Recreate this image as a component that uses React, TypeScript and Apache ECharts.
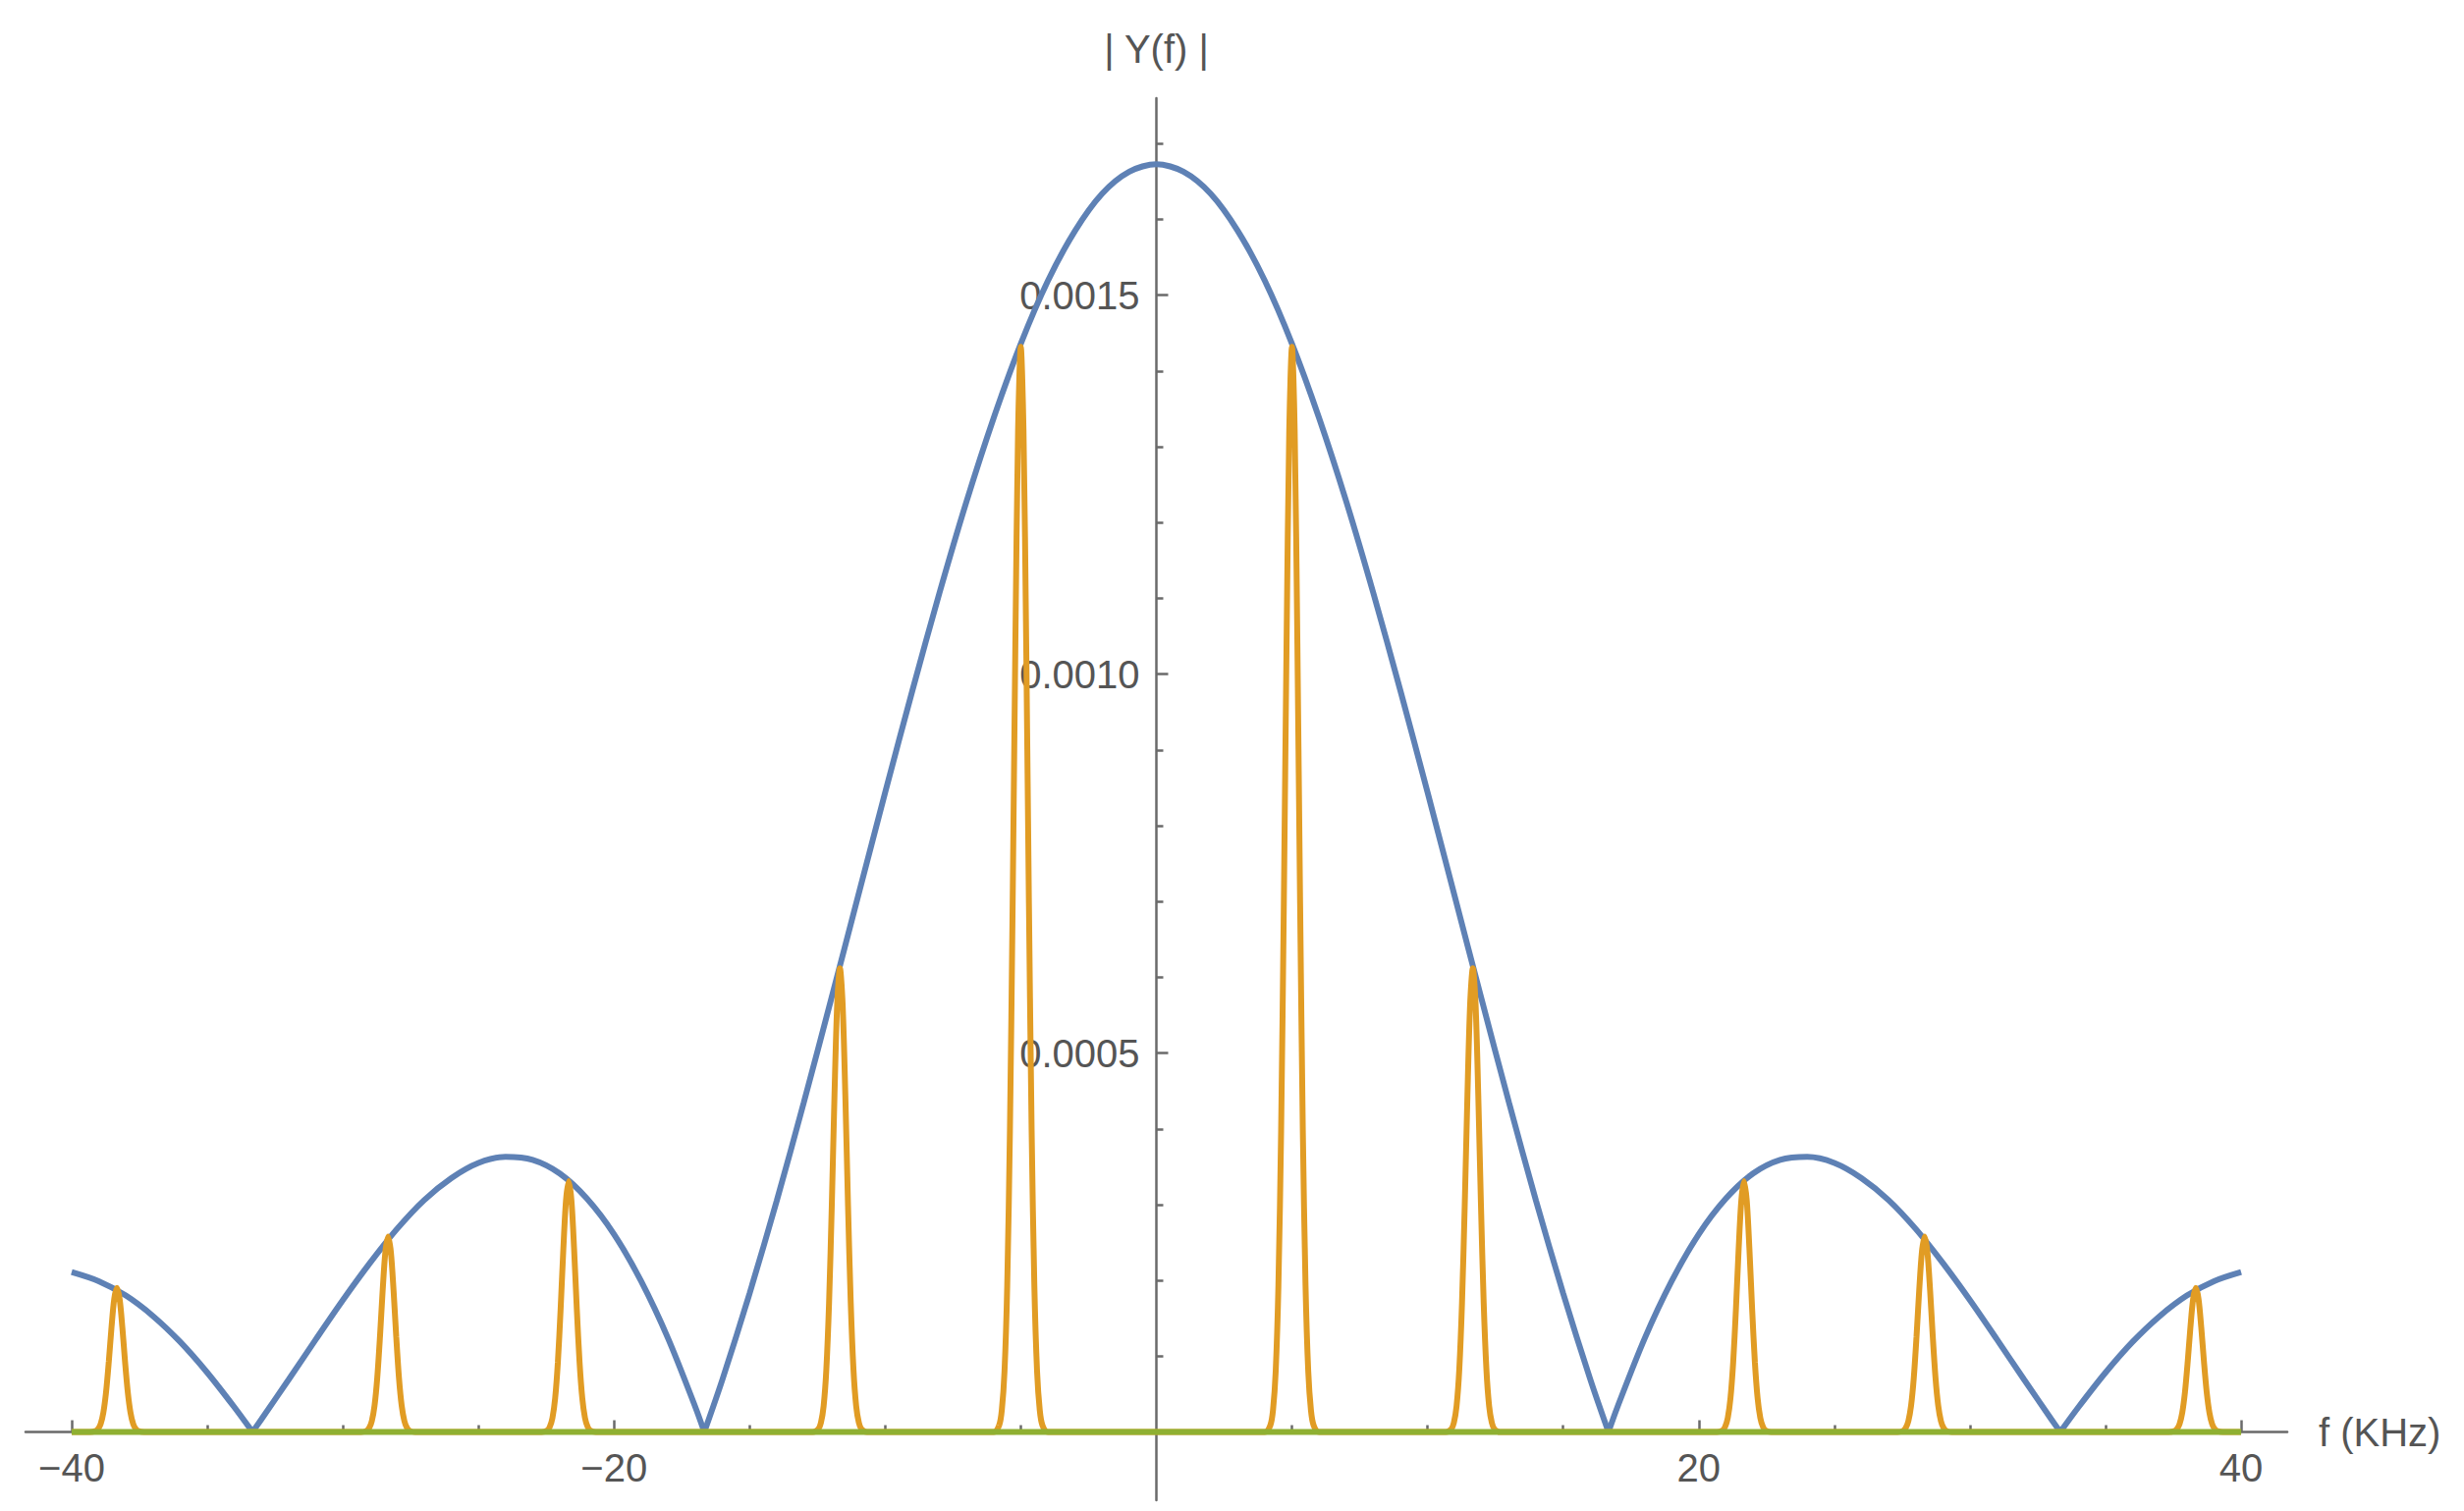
import * as echarts from 'echarts';
import { useEffect, useRef } from 'react';

// |Y(f)| envelope (f in kHz)
const envFreq = [
    -40, -39, -38, -37, -36, -35, -34, -33.33,
    -33, -32, -31, -30, -29, -28, -27, -26, -25, -24, -23, -22, -21, -20, -19, -18, -17, -16.67,
    -16, -15, -14, -13, -12, -11, -10, -9, -8, -7, -6, -5, -4, -3, -2, -1, 0,
    1, 2, 3, 4, 5, 6, 7, 8, 9, 10, 11, 12, 13, 14, 15, 16, 16.67,
    17, 18, 19, 20, 21, 22, 23, 24, 25, 26, 27, 28, 29, 30, 31, 32, 33, 33.33,
    34, 35, 36, 37, 38, 39, 40,
];
const envMag = [
    0.000211, 0.000199, 0.00018, 0.000153, 0.000119, 0.0000784, 0.0000327, 0,
    0.0000169, 0.000069, 0.000122, 0.000174, 0.000223, 0.000268, 0.000306, 0.000335, 0.000355, 0.000363, 0.000359, 0.000341, 0.000308, 0.000261, 0.000199, 0.000123, 0.0000328, 0,
    0.0000695, 0.000183, 0.000305, 0.000435, 0.00057, 0.000707, 0.000844, 0.000978, 0.001107, 0.001228, 0.001338, 0.001436, 0.001519, 0.001585, 0.001634, 0.001663, 0.001673,
    0.001663, 0.001634, 0.001585, 0.001519, 0.001436, 0.001338, 0.001228, 0.001107, 0.000978, 0.000844, 0.000707, 0.00057, 0.000435, 0.000305, 0.000183, 0.0000695, 0,
    0.0000328, 0.000123, 0.000199, 0.000261, 0.000308, 0.000341, 0.000359, 0.000363, 0.000355, 0.000335, 0.000306, 0.000268, 0.000223, 0.000174, 0.000122, 0.000069, 0.0000169, 0,
    0.0000327, 0.0000784, 0.000119, 0.000153, 0.00018, 0.000199, 0.000211,
];

// sampled spectrum spikes
const spikeCenters = [-38.33, -28.33, -21.67, -11.67, -5, 5, 11.67, 21.67, 28.33, 38.33];
const spikePeaks = [0.00019, 0.000258, 0.000331, 0.000612, 0.001432, 0.001432, 0.000612, 0.000331, 0.000258, 0.00019];
// spike profile: offset from centre (kHz) and fraction of peak
const spikeOffsets = [-1, -0.8, -0.7, -0.6, -0.5, -0.4, -0.3, -0.2, -0.1, 0, 0.1, 0.2, 0.3, 0.4, 0.5, 0.6, 0.7, 0.8, 1];
const spikeShape = [0, 0.006, 0.02, 0.056, 0.135, 0.278, 0.487, 0.726, 0.923, 1, 0.923, 0.726, 0.487, 0.278, 0.135, 0.056, 0.02, 0.006, 0];

const xMajorTicks = [-40, -20, 20, 40];
const xMinorTicks = [-35, -30, -25, -15, -10, -5, 5, 10, 15, 25, 30, 35];
const yMajorTicks = [0.0005, 0.001, 0.0015];
const yMinorTicks = [0.0001, 0.0002, 0.0003, 0.0004, 0.0006, 0.0007, 0.0008, 0.0009, 0.0011, 0.0012, 0.0013, 0.0014, 0.0016, 0.0017];

const W = 2509;
const H = 1539;
const GRID = { left: 26, right: 180, top: 100, bottom: 11 };
const X_MIN = -41.7;
const X_MAX = 41.7;
const Y_MIN = -0.00009;
const Y_MAX = 0.00176;

const BLUE = '#5e81b5';
const ORANGE = '#e19c24';
const GREEN = '#8fb032';
const AXIS = '#6a6a6a';
const TEXT = '#555555';
const FONT = '"Liberation Sans", Arial, sans-serif';

const SpectrumChart = () => {
    const chartRef = useRef<HTMLDivElement>(null);

    useEffect(() => {
        if (!chartRef.current) return;
        document.body.style.margin = '0';
        const chart = echarts.init(chartRef.current, null, { renderer: 'svg' });

        // axes cross at the origin: shift them from the grid edges with offset
        const gridW = W - GRID.left - GRID.right;
        const gridH = H - GRID.top - GRID.bottom;
        const xAxisOffset = -gridH * (0 - Y_MIN) / (Y_MAX - Y_MIN);
        const yAxisOffset = -gridW * (0 - X_MIN) / (X_MAX - X_MIN);

        // split the envelope into lobes at its zeros so the cusps stay sharp
        const lobes: number[][][] = [];
        let cur: number[][] = [];
        envFreq.forEach((f, i) => {
            cur.push([f, envMag[i]]);
            if (envMag[i] === 0 && cur.length > 1) {
                lobes.push(cur);
                cur = [[f, 0]];
            }
        });
        if (cur.length > 1) lobes.push(cur);

        const spikeData: number[][] = [[-40, 0]];
        spikeCenters.forEach((c, i) => {
            spikeOffsets.forEach((o, j) => spikeData.push([c + o, spikePeaks[i] * spikeShape[j]]));
        });
        spikeData.push([40, 0]);

        const lobeSeries = lobes.map((d) => ({
            type: 'line',
            data: d,
            smooth: 0.3,
            showSymbol: false,
            lineStyle: { color: BLUE, width: 6 },
            z: 3,
        }));

        const tickStyle = { color: AXIS, width: 2.5 };
        const labelStyle = { fontSize: 40, fontFamily: FONT, color: TEXT };

        chart.setOption({
            animation: false,
            grid: { ...GRID, containLabel: false, outerBoundsMode: 'none' },
            xAxis: [
                {
                    type: 'value',
                    min: X_MIN,
                    max: X_MAX,
                    position: 'bottom',
                    offset: xAxisOffset,
                    axisLine: { onZero: false, lineStyle: tickStyle },
                    axisTick: { inside: true, length: 12, customValues: xMajorTicks, lineStyle: tickStyle },
                    axisLabel: {
                        ...labelStyle,
                        customValues: xMajorTicks,
                        margin: 16,
                        formatter: (v: number) => String(v).replace('-', '\u2212'),
                    },
                    splitLine: { show: false },
                    name: 'f (KHz)',
                    nameLocation: 'end',
                    nameGap: 32,
                    nameTextStyle: labelStyle,
                },
                {
                    type: 'value',
                    min: X_MIN,
                    max: X_MAX,
                    position: 'bottom',
                    offset: xAxisOffset,
                    axisLine: { show: false, onZero: false },
                    axisTick: { inside: true, length: 7, customValues: xMinorTicks, lineStyle: tickStyle },
                    axisLabel: { show: false },
                    splitLine: { show: false },
                },
            ],
            yAxis: [
                {
                    type: 'value',
                    min: Y_MIN,
                    max: Y_MAX,
                    position: 'left',
                    offset: yAxisOffset,
                    axisLine: { show: true, onZero: false, lineStyle: tickStyle },
                    axisTick: { show: true, inside: true, length: 12, customValues: yMajorTicks, lineStyle: tickStyle },
                    axisLabel: {
                        ...labelStyle,
                        customValues: yMajorTicks,
                        margin: 17,
                        formatter: (v: number) => v.toFixed(4),
                    },
                    splitLine: { show: false },
                    name: '| Y(f) |',
                    nameLocation: 'end',
                    nameGap: 30,
                    nameTextStyle: { ...labelStyle, align: 'center' },
                },
                {
                    type: 'value',
                    min: Y_MIN,
                    max: Y_MAX,
                    position: 'left',
                    offset: yAxisOffset,
                    axisLine: { show: false, onZero: false },
                    axisTick: { show: true, inside: true, length: 7, customValues: yMinorTicks, lineStyle: tickStyle },
                    axisLabel: { show: false },
                    splitLine: { show: false },
                },
            ],
            series: [
                ...lobeSeries,
                {
                    type: 'line',
                    data: spikeData,
                    smooth: 0.3,
                    showSymbol: false,
                    lineStyle: { color: ORANGE, width: 6 },
                    z: 4,
                },
                {
                    type: 'line',
                    data: [[-40, 0], [40, 0]],
                    showSymbol: false,
                    lineStyle: { color: GREEN, width: 6 },
                    z: 5,
                },
            ],
        });

        const onResize = () => chart.resize();
        window.addEventListener('resize', onResize);
        return () => {
            window.removeEventListener('resize', onResize);
            chart.dispose();
        };
    }, []);

    return <div ref={chartRef} style={{ width: W, height: H }} />;
};

export default function App() {
    return <SpectrumChart />;
}
